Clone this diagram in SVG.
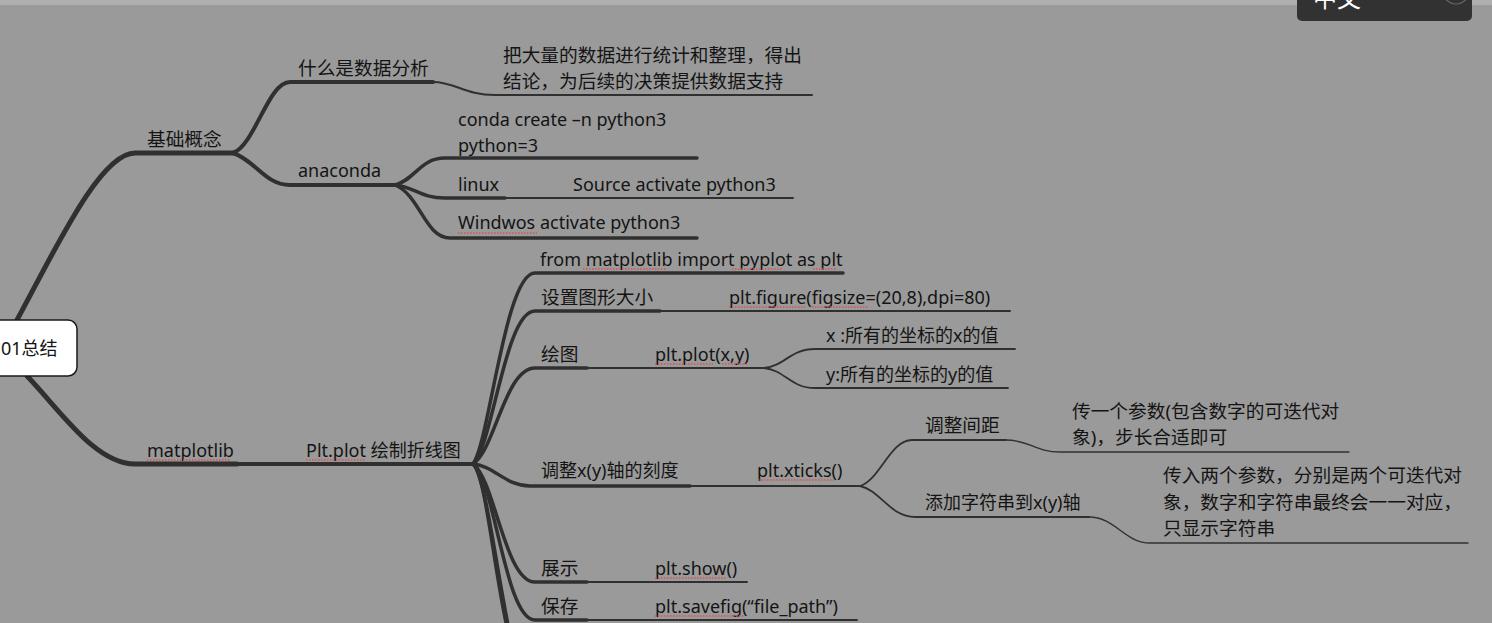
<svg xmlns="http://www.w3.org/2000/svg" width="1492" height="623" viewBox="0 0 1492 623">
<style>
.t{font-family:"Noto Sans","Noto Sans CJK SC",sans-serif;font-size:18px;fill:#141414}
.z{font-size:18.7px}
.c{fill:none;stroke:#303030;stroke-linecap:round}
.w5{stroke-width:5}.w4{stroke-width:4}.w35{stroke-width:3.5}.w2{stroke-width:2}.w18{stroke-width:1.8}.w13{stroke-width:1.4}
.sp{stroke:#d9534f;stroke-width:1.6;stroke-dasharray:1.5 1.5;fill:none}
</style>
<rect width="1492" height="623" fill="#9a9a9a"/>
<rect width="1492" height="5" fill="#b0aeb0"/>
<g id="connectors">
<path class="c w5" d="M17,320 C55,250 100,153 135,153 H235"/>
<path class="c w5" d="M27,376 C60,410 95,464 135,464 H237"/>
<path class="c w4" d="M237,464 H473"/>
<path class="c w4" d="M233,153 C255,145 268,82 290,82 H433"/>
<path class="c w4" d="M233,153 C255,160 265,185 290,185 H395"/>
<path class="c w2" d="M433,82 C455,82 465,95 495,95 H812"/>
<path class="c w35" d="M395,185 C415,180 420,158 445,158 H697"/>
<path class="c w35" d="M395,185 C415,187 420,198 445,198 H505"/>
<path class="c w2" d="M505,198 H793"/>
<path class="c w35" d="M395,185 C420,195 425,238 450,238 H697"/>
<path class="c w35" d="M473,464 C490,440 505,273 535,273 H843"/>
<path class="c w35" d="M473,464 C493,445 505,311 535,311 H660"/>
<path class="c w2" d="M660,311 H1010"/>
<path class="c w35" d="M473,464 C495,450 505,368 535,368 H587"/>
<path class="c w2" d="M587,368 H766"/>
<path class="c w18" d="M764,368 C785,366 790,349 815,349 H1015"/>
<path class="c w18" d="M764,368 C785,370 790,388 815,388 H1008"/>
<path class="c w35" d="M473,464 C495,466 505,486 530,486 H690"/>
<path class="c w2" d="M690,486 H862"/>
<path class="c w18" d="M860,486 C880,480 890,440 912,440 H1006"/>
<path class="c w13" d="M1006,440 C1030,440 1035,452 1060,452 H1349"/>
<path class="c w18" d="M860,486 C880,490 890,517 915,517 H1089"/>
<path class="c w13" d="M1089,517 C1115,517 1125,543 1150,543 H1468"/>
<path class="c w35" d="M473,464 C495,480 505,582 535,582 H587"/>
<path class="c w2" d="M587,582 H747"/>
<path class="c w35" d="M473,464 C495,480 505,620 535,620 H587"/>
<path class="c w2" d="M587,620 H857"/>
<path class="c w35" d="M473,464 C492,480 500,680 535,690"/>
<path class="c w35" d="M473,464 C492,480 508,700 540,720"/>
</g>
<g id="root">
<rect x="-12" y="320" width="89" height="56" rx="9" fill="#ffffff" stroke="#1a1a1a" stroke-width="1.5"/>
<text class="t" x="1" y="355">01总结</text>
</g>
<g id="n-jichu"><text class="t z" x="147" y="146">基础概念</text></g>
<g id="n-shenme"><text class="t z" x="298" y="75">什么是数据分析</text></g>
<g id="n-baliang"><text class="t z" x="503" y="62">把大量的数据进行统计和整理，得出</text><text class="t z" x="503" y="88">结论，为后续的决策提供数据支持</text></g>
<g id="n-anaconda"><text class="t" x="298" y="177">anaconda</text></g>
<g id="n-conda"><text class="t" x="458" y="126">conda create –n python3</text><text class="t" x="458" y="152">python=3</text></g>
<g id="n-linux"><text class="t" x="458" y="191">linux</text></g>
<g id="n-source"><text class="t" x="573" y="191">Source activate python3</text></g>
<g id="n-windows"><text class="t" x="458" y="229">Windwos activate python3</text><path class="sp" d="M458,233 H537"/></g>
<g id="n-matplotlib"><text class="t" x="147" y="457">matplotlib</text><path class="sp" d="M147,460 H231"/></g>
<g id="n-pltplot"><text class="t" x="306" y="457">Plt.plot 绘制折线图</text><path class="sp" d="M306,460 H365"/></g>
<g id="n-import"><text class="t" x="540" y="266">from matplotlib import pyplot as plt</text><path class="sp" d="M583,269 H667 M732,269 H783 M813,269 H837"/></g>
<g id="n-size"><text class="t z" x="541" y="304">设置图形大小</text></g>
<g id="n-figure"><text class="t" x="729" y="304">plt.figure(figsize=(20,8),dpi=80)</text><path class="sp" d="M729,307 H807 M812,307 H868"/></g>
<g id="n-draw"><text class="t z" x="541" y="361">绘图</text></g>
<g id="n-plot"><text class="t" x="655" y="361">plt.plot(x,y)</text><path class="sp" d="M655,364 H713 M722,364 H747"/></g>
<g id="n-x"><text class="t" x="826" y="342">x :所有的坐标的x的值</text></g>
<g id="n-y"><text class="t" x="826" y="381">y:所有的坐标的y的值</text></g>
<g id="n-ticks"><text class="t" x="541" y="477">调整x(y)轴的刻度</text></g>
<g id="n-xticks"><text class="t" x="757" y="477">plt.xticks()</text><path class="sp" d="M758,480 H835"/></g>
<g id="n-spacing"><text class="t z" x="925" y="432">调整间距</text></g>
<g id="n-onearg"><text class="t z" x="1072" y="418">传一个参数(包含数字的可迭代对</text><text class="t z" x="1072" y="444">象)，步长合适即可</text></g>
<g id="n-addstr"><text class="t" x="925" y="509">添加字符串到x(y)轴</text></g>
<g id="n-twoarg"><text class="t z" x="1163" y="482">传入两个参数，分别是两个可迭代对</text><text class="t z" x="1163" y="509">象，数字和字符串最终会一一对应，</text><text class="t z" x="1163" y="535">只显示字符串</text></g>
<g id="n-show"><text class="t z" x="541" y="575">展示</text></g>
<g id="n-pltshow"><text class="t" x="655" y="575">plt.show()</text><path class="sp" d="M655,578 H727"/></g>
<g id="n-save"><text class="t z" x="541" y="613">保存</text></g>
<g id="n-savefig"><text class="t" x="655" y="613">plt.savefig(“file_path”)</text><path class="sp" d="M655,616 H745"/></g>
<g id="lang-button">
<rect x="1297" y="-8" width="175" height="29" rx="5" fill="#323232"/>
<text x="1313" y="7" style="font-family:'Noto Sans CJK SC',sans-serif;font-size:24px;fill:#ffffff">中文</text>
<circle cx="1456" cy="-9" r="13" fill="none" stroke="#6a6a6a" stroke-width="1.2"/>
</g>
</svg>
